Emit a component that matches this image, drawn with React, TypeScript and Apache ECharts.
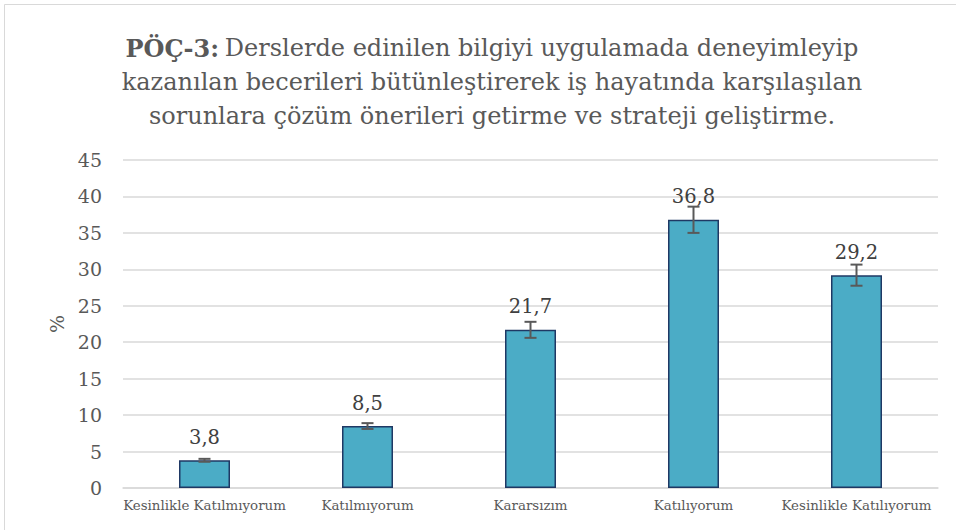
import React, { useEffect, useRef } from "react";
import * as echarts from "echarts";

const categories = [
  "Kesinlikle Katılmıyorum",
  "Katılmıyorum",
  "Kararsızım",
  "Katılıyorum",
  "Kesinlikle Katılıyorum",
];
const values = [3.8, 8.5, 21.7, 36.8, 29.2];
const errors = [0.2, 0.4, 1.1, 1.8, 1.45];
const yMin = 0;
const yMax = 45;
const yStep = 5;
const titleBold = "PÖÇ-3:";
const titleLines = [
  "Derslerde edinilen bilgiyi uygulamada deneyimleyip",
  "kazanılan becerileri bütünleştirerek iş hayatında karşılaşılan",
  "sorunlara çözüm önerileri getirme ve strateji geliştirme.",
];

const FONT = "DejaVu Serif";

export default function App() {
  const ref = useRef<HTMLDivElement>(null);
  useEffect(() => {
    if (!ref.current) return;
    const chart = echarts.init(ref.current, null, { renderer: "svg" });
    const errData = values.map((v, i) => [i, v - errors[i], v + errors[i]]);
    chart.setOption({
      animation: false,
      backgroundColor: "#ffffff",
      textStyle: { fontFamily: FONT },
      title: {
        text:
          "{b|" + titleBold + "} {n|" + titleLines[0] + "}\n{n|" + titleLines[1] + "}\n{n|" + titleLines[2] + "}",
        left: 487,
        top: 26,
        textAlign: "center",
        textStyle: {
          fontFamily: FONT,
          fontWeight: "normal",
          lineHeight: 34,
          rich: {
            b: { fontFamily: FONT, fontSize: 24, fontWeight: "bold", color: "#595959", lineHeight: 34 },
            n: { fontFamily: FONT, fontSize: 24, fontWeight: "normal", color: "#595959", lineHeight: 34 },
          },
        },
      },
      graphic: [
        {
          type: "rect",
          shape: { x: 4.5, y: 4.5, width: 980, height: 560 },
          style: { fill: "none", stroke: "#D9D9D9", lineWidth: 1 },
          silent: true,
        },
      ],
      grid: { left: 123, right: 18, top: 160, bottom: 42 },
      xAxis: {
        type: "category",
        data: categories,
        axisLine: { show: true, lineStyle: { color: "#D9D9D9", width: 1.5 } },
        axisTick: { show: false },
        axisLabel: { fontFamily: FONT, fontSize: 13.4, color: "#595959", margin: 11, interval: 0 },
      },
      yAxis: {
        type: "value",
        min: yMin,
        max: yMax,
        interval: yStep,
        name: "%",
        nameLocation: "middle",
        nameRotate: 90,
        nameGap: 57,
        nameTextStyle: { fontFamily: FONT, fontSize: 19, color: "#595959" },
        axisLine: { show: false },
        axisTick: { show: false },
        axisLabel: { fontFamily: FONT, fontSize: 19, color: "#595959", margin: 21 },
        splitLine: { lineStyle: { color: "#D9D9D9", width: 1.5 } },
      },
      series: [
        {
          type: "bar",
          data: values,
          barWidth: 51,
          itemStyle: { color: "#4BACC6", borderColor: "#1F3864", borderWidth: 1.5 },
          label: {
            show: true,
            position: "top",
            distance: 13,
            fontFamily: FONT,
            fontSize: 19.5,
            color: "#404040",
            formatter: (p: any) => String(p.value).replace(".", ","),
          },
          z: 2,
        },
        {
          type: "custom",
          data: errData,
          z: 3,
          renderItem: (params: any, api: any) => {
            const x = api.value(0);
            const lo = api.coord([x, api.value(1)]);
            const hi = api.coord([x, api.value(2)]);
            const hw = 6;
            const style = { stroke: "#595959", lineWidth: 2 };
            return {
              type: "group",
              children: [
                { type: "line", shape: { x1: lo[0], y1: lo[1], x2: hi[0], y2: hi[1] }, style },
                { type: "line", shape: { x1: hi[0] - hw, y1: hi[1], x2: hi[0] + hw, y2: hi[1] }, style },
                { type: "line", shape: { x1: lo[0] - hw, y1: lo[1], x2: lo[0] + hw, y2: lo[1] }, style },
              ],
            };
          },
        },
      ],
    });
    return () => chart.dispose();
  }, []);
  return (
    <div
      ref={ref}
      style={{ position: "absolute", left: 0, top: 0, width: 956, height: 530 }}
    />
  );
}
